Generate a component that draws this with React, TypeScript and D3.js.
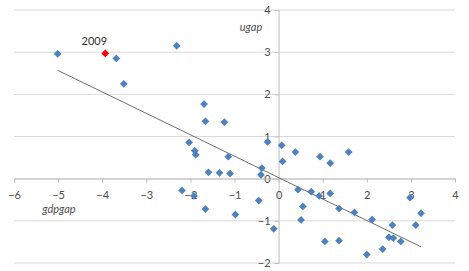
import React, { useEffect, useRef } from 'react';
import * as d3 from 'd3';

const gdpgap: number[] = [
  -5.01, -3.68, -3.51, -2.31, -1.69, -1.66, -1.23, -2.03, -1.9, -1.88, -1.14, -1.59, -1.34, -1.1,
  -2.19, -1.92, -1.66, -0.98, -0.25, 0.07, 0.09, 0.38, 0.94, 1.17, 1.59, -0.38, -0.4, 0.44, 0.74,
  0.92, 1.17, -0.45, 0.55, 0.51, -0.11, 1.37, 1.72, 2.12, 1.05, 1.37, 2.0, 2.36, 2.5, 2.6, 2.58,
  2.77, 2.98, 3.11, 3.23,
];
const ugap: number[] = [
  2.96, 2.85, 2.25, 3.15, 1.77, 1.36, 1.34, 0.86, 0.66, 0.57, 0.52, 0.15, 0.14, 0.12, -0.28, -0.41,
  -0.72, -0.85, 0.87, 0.79, 0.41, 0.63, 0.52, 0.37, 0.63, 0.25, 0.09, -0.26, -0.31, -0.41, -0.35,
  -0.52, -0.66, -0.98, -1.19, -0.71, -0.8, -0.97, -1.49, -1.47, -1.8, -1.67, -1.39, -1.41, -1.1,
  -1.49, -0.45, -1.1, -0.82,
];

// highlighted year
const highlightLabel = '2009';
const highlightX = -3.93;
const highlightY = 2.97;

// linear trendline
const trendSlope = -0.508;
const trendIntercept = 0.025;

const xTicks = [-6, -5, -4, -3, -2, -1, 0, 1, 2, 3, 4];
const yTicks = [-2, -1, 0, 1, 2, 3, 4];

const W = 469;
const H = 271;

const App: React.FC = () => {
  const svgRef = useRef<SVGSVGElement | null>(null);

  useEffect(() => {
    if (!svgRef.current) return;
    const svg = d3.select(svgRef.current);
    svg.selectAll('*').remove();

    const x = d3.scaleLinear().domain([-6, 4]).range([14, 455]);
    const y = d3.scaleLinear().domain([-2, 4]).range([263, 10]);
    const font = 'Lato, "Open Sans", sans-serif';
    const textColor = '#4d4d4d';

    // horizontal gridlines
    svg
      .append('g')
      .selectAll('line')
      .data(yTicks)
      .join('line')
      .attr('x1', x(-6))
      .attr('x2', x(4))
      .attr('y1', (d) => y(d))
      .attr('y2', (d) => y(d))
      .attr('stroke', '#d9d9d9')
      .attr('stroke-width', 1);

    // y axis at x=0
    const yAxis = svg
      .append('g')
      .attr('transform', `translate(${x(0)},0)`)
      .call(d3.axisLeft(y).tickValues(yTicks).tickSize(4).tickFormat(d3.format('d')));
    yAxis.select('.domain').attr('stroke', '#bfbfbf');
    yAxis.selectAll('.tick line').attr('stroke', '#bfbfbf');
    yAxis
      .selectAll('.tick text')
      .attr('x', -8)
      .attr('fill', textColor)
      .style('font-family', font)
      .style('font-size', '11px');

    // x axis at y=0
    const xAxis = svg
      .append('g')
      .attr('transform', `translate(0,${y(0)})`)
      .call(d3.axisBottom(x).tickValues(xTicks).tickSize(4).tickSizeOuter(0).tickFormat(d3.format('d')));
    xAxis.select('.domain').attr('stroke', '#bfbfbf');
    xAxis.selectAll('.tick line').attr('stroke', '#bfbfbf');
    xAxis
      .selectAll('.tick text')
      .attr('y', 13)
      .attr('fill', textColor)
      .style('font-family', font)
      .style('font-size', '11px');

    // axis titles
    svg
      .append('text')
      .attr('x', 59)
      .attr('y', 213)
      .attr('text-anchor', 'middle')
      .attr('fill', textColor)
      .style('font-family', font)
      .style('font-size', '11px')
      .style('font-style', 'italic')
      .text('gdpgap');
    svg
      .append('text')
      .attr('x', 251)
      .attr('y', 31)
      .attr('text-anchor', 'middle')
      .attr('fill', textColor)
      .style('font-family', font)
      .style('font-size', '11px')
      .style('font-style', 'italic')
      .text('ugap');

    // trendline over data range
    const [xmin, xmax] = d3.extent(gdpgap) as [number, number];
    const trend = d3
      .line<number>()
      .x((d) => x(d))
      .y((d) => y(trendSlope * d + trendIntercept));
    svg
      .append('path')
      .datum([xmin, xmax])
      .attr('fill', 'none')
      .attr('stroke', '#6e6e6e')
      .attr('stroke-width', 1)
      .attr('d', trend);

    // markers
    const diamond = d3.symbol().type(d3.symbolSquare).size(30);
    svg
      .append('g')
      .selectAll('path')
      .data(gdpgap.map((g, i) => [g, ugap[i]]))
      .join('path')
      .attr('d', diamond)
      .attr('transform', (d) => `translate(${x(d[0])},${y(d[1])}) rotate(45)`)
      .attr('fill', '#4f81bd');

    svg
      .append('path')
      .attr('d', diamond)
      .attr('transform', `translate(${x(highlightX)},${y(highlightY)}) rotate(45)`)
      .attr('fill', '#ff0000');

    svg
      .append('text')
      .attr('x', x(highlightX) - 11)
      .attr('y', y(highlightY) - 8)
      .attr('text-anchor', 'middle')
      .attr('fill', '#333')
      .style('font-family', font)
      .style('font-size', '11px')
      .text(highlightLabel);
  }, []);

  return (
    <svg
      ref={svgRef}
      width={W}
      height={H}
      style={{ position: 'absolute', left: 0, top: 0, background: '#fff' }}
    ></svg>
  );
};

export default App;
